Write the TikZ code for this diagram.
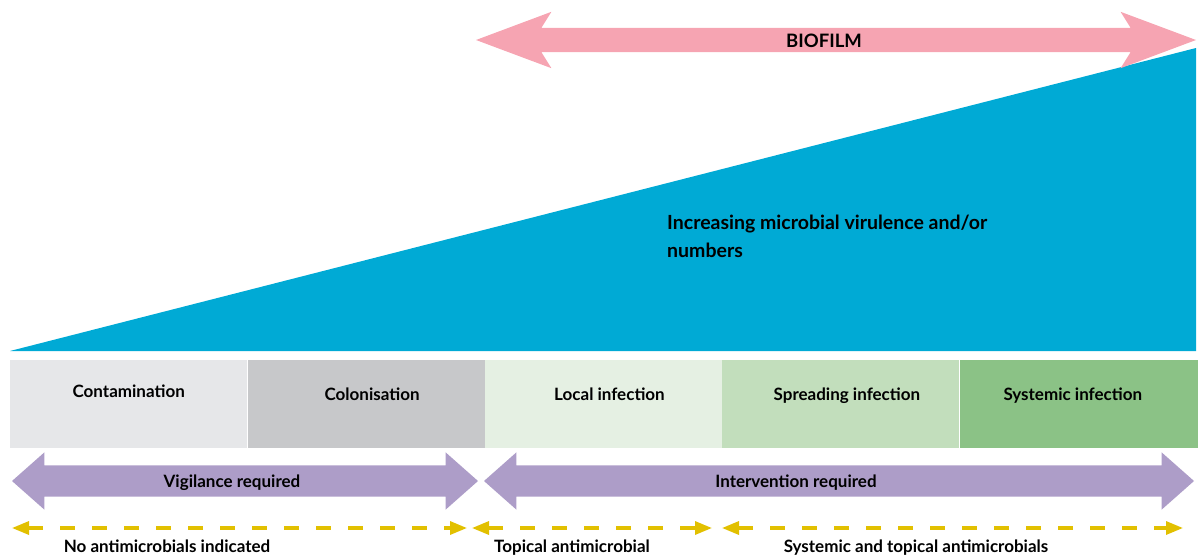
\documentclass[tikz,border=0pt]{standalone}
\usepackage{fontspec}
\setmainfont{Lato}
\usepackage{tikz}
\usetikzlibrary{positioning, shapes.arrows, arrows.meta}

\definecolor{woundblue}{RGB}{0,170,213}
\definecolor{biopink}{RGB}{246,164,178}
\definecolor{carepurple}{RGB}{173,157,200}
\definecolor{drugyellow}{RGB}{226,192,0}
\definecolor{greyA}{RGB}{230,231,233}
\definecolor{greyB}{RGB}{199,200,202}
\definecolor{greenA}{RGB}{229,240,227}
\definecolor{greenB}{RGB}{194,222,188}
\definecolor{greenC}{RGB}{139,194,134}

\begin{document}
\begin{tikzpicture}[x=1pt, y=-1pt, font=\fontsize{17}{28}\selectfont\bfseries]
\tikzstyle{stage}=[minimum width=237pt, minimum height=88pt, inner sep=0pt,
text height=40pt, text depth=48pt, node distance=0pt]
\tikzstyle{carearrow}=[double arrow, fill=carepurple, inner sep=0pt, inner ysep=15.5pt,
double arrow head extend=13pt, double arrow tip angle=83]
\tikzstyle{drugline}=[draw=drugyellow, line width=3.2pt, dash pattern=on 15pt off 17pt,
{Triangle[length=17pt, width=13pt]}-{Triangle[length=17pt, width=13pt]}]

\useasboundingbox (0,0) rectangle (1200,555);

% wedge
\fill[woundblue] (10,351) -- (1196,351) -- (1196,48) -- cycle;
\node (virulence) [anchor=base west, align=left, inner sep=0pt, font=\fontsize{19.5}{28}\selectfont\bfseries]
  at (667,257) {Increasing microbial virulence and/or\\numbers};

% biofilm
\node (biofilm) [double arrow, fill=biopink, inner sep=0pt, inner ysep=12pt, minimum height=720pt,
double arrow head extend=16pt, double arrow tip angle=41, double arrow head indent=10pt] at (836,40) {};
\node (biofilmtxt) [anchor=base, font=\fontsize{18.5}{22}\selectfont\bfseries] at (824,47) {BIOFILM};

% stages
\node (contam) [stage, fill=greyA, anchor=north west, text height=37pt, text depth=51pt] at (10,360) {Contamination};
\node (colon) [stage, fill=greyB, right=of contam] {\hspace*{12pt}Colonisation};
\node (local) [stage, fill=greenA, right=of colon] {\hspace*{12pt}Local infection};
\node (spread) [stage, fill=greenB, right=of local] {\hspace*{12pt}Spreading infection};
\node (system) [stage, fill=greenC, right=of spread, minimum width=238pt] {Systemic infection\hspace*{12pt}};

% care
\node (vigil) [carearrow, minimum height=466pt] at (245,481) {};
\node (interv) [carearrow, minimum height=710pt] at (839,481) {};
\node (vigiltxt) [anchor=base] at (232,487) {Vigilance required};
\node (intervtxt) [anchor=base] at (796,487) {Intervention required};

% antimicrobials
\coordinate (d0) at (12,528);
\coordinate (d1) at (467,528);
\coordinate (d2) at (472,528);
\coordinate (d3) at (712,528);
\coordinate (d4) at (722,528);
\coordinate (d5) at (1183,528);
\draw[drugline] (d0) -- (d1);
\draw[drugline] (d2) -- (d3);
\draw[drugline] (d4) -- (d5);

\node (none) [anchor=base] at (167,552) {No antimicrobials indicated};
\node (topical) [anchor=base] at (572,552) {Topical antimicrobial};
\node (both) [anchor=base] at (916,552) {Systemic and topical antimicrobials};

\end{tikzpicture}
\end{document}
